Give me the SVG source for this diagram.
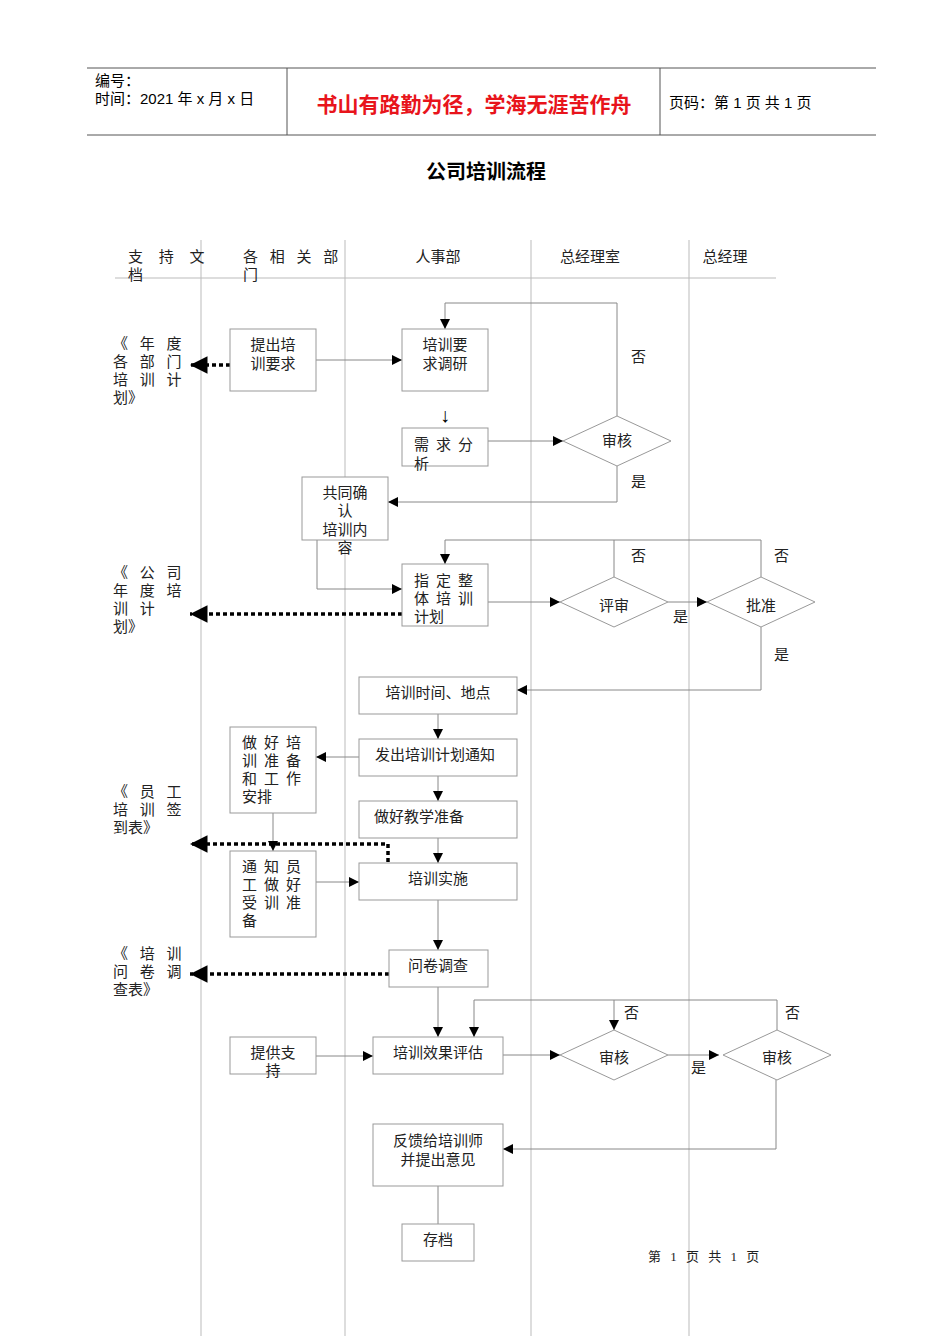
<svg xmlns="http://www.w3.org/2000/svg" width="950" height="1344" viewBox="0 0 950 1344">
<style>
text{font-family:"Liberation Serif","Noto Sans CJK SC",serif;font-size:15px;fill:#222}
.h{font-family:"Liberation Sans","Noto Sans CJK SC",sans-serif;font-size:15px;fill:#000}
.b{fill:#fff;stroke:#999;stroke-width:1}
.l{stroke:#bbb;stroke-width:1;fill:none}
.c{stroke:#888;stroke-width:1;fill:none}
.d{stroke:#000;stroke-width:3.5;stroke-dasharray:4 3;fill:none}
.m{text-anchor:middle}
</style>
<defs>
<marker id="a" viewBox="0 0 10 10" refX="10" refY="5" markerWidth="10" markerHeight="10" markerUnits="userSpaceOnUse" orient="auto"><path d="M0,0 L10,5 L0,10 z" fill="#000"/></marker>
<marker id="a2" viewBox="0 0 10 10" refX="10" refY="5" markerWidth="5" markerHeight="5" orient="auto"><path d="M0,0 L10,5 L0,10 z" fill="#000"/></marker>
</defs>
<g id="header">
<line x1="87" y1="68" x2="876" y2="68" stroke="#555"/>
<line x1="87" y1="135" x2="876" y2="135" stroke="#555"/>
<line x1="287" y1="68" x2="287" y2="135" stroke="#555"/>
<line x1="660" y1="68" x2="660" y2="135" stroke="#555"/>
<text class="h" x="95" y="86">编号：</text>
<text class="h" x="95" y="104">时间：2021 年 x 月 x 日</text>
<text class="h" x="474" y="112" text-anchor="middle" style="font-size:21px;font-weight:bold;fill:#e8141b">书山有路勤为径，学海无涯苦作舟</text>
<text class="h" x="669" y="108">页码：第 1 页  共 1 页</text>
<text x="486" y="179" text-anchor="middle" style="font-size:20px;font-weight:bold;fill:#000;font-family:'Noto Sans CJK SC',sans-serif">公司培训流程</text>
</g>
<g id="lanes">
<line class="l" x1="201" y1="240" x2="201" y2="1336"/>
<line class="l" x1="345" y1="240" x2="345" y2="1336"/>
<line class="l" x1="531" y1="240" x2="531" y2="1336"/>
<line class="l" x1="689" y1="240" x2="689" y2="1336"/>
<line class="l" x1="115" y1="278" x2="776" y2="278"/>
<text x="128" y="262" letter-spacing="6">支 持 文</text><text x="128" y="280">档</text>
<text x="243" y="262" letter-spacing="4">各 相 关 部</text><text x="243" y="280">门</text>
<text x="438" y="262" class="m">人事部</text>
<text x="590" y="262" class="m">总经理室</text>
<text x="725" y="262" class="m">总经理</text>
</g>
<g id="docs">
<text x="113" y="349" letter-spacing="4">《 年 度</text><text x="113" y="367" letter-spacing="4">各 部 门</text><text x="113" y="385" letter-spacing="4">培 训 计</text><text x="113" y="403">划》</text>
<text x="113" y="578" letter-spacing="4">《 公 司</text><text x="113" y="596" letter-spacing="4">年 度 培</text><text x="113" y="614" letter-spacing="4">训     计</text><text x="113" y="632">划》</text>
<text x="113" y="797" letter-spacing="4">《 员 工</text><text x="113" y="815" letter-spacing="4">培 训 签</text><text x="113" y="833">到表》</text>
<text x="113" y="959" letter-spacing="4">《 培 训</text><text x="113" y="977" letter-spacing="4">问 卷 调</text><text x="113" y="995">查表》</text>
</g>
<g id="connectors">
<path class="c" d="M316,360 H402" marker-end="url(#a)"/>
<path class="c" d="M617,416 V303 H445 V329" marker-end="url(#a)"/>
<text x="445" y="422" class="m" style="font-size:20px;fill:#000">↓</text>
<path class="c" d="M488,441 H563" marker-end="url(#a)"/>
<path class="c" d="M617,466 V502 H388" marker-end="url(#a)"/>
<path class="c" d="M317,540 V589 H402" marker-end="url(#a)"/>
<path class="d" d="M230,365 H190" marker-end="url(#a2)"/>
<path class="d" d="M402,614 H190" marker-end="url(#a2)"/>
<path class="c" d="M488,602 H560" marker-end="url(#a)"/>
<path class="c" d="M668,602 H707" marker-end="url(#a)"/>
<path class="c" d="M614,577 V540 M761,577 V540 H445 V564" marker-end="url(#a)"/>
<path class="c" d="M761,627 V690 H517" marker-end="url(#a)"/>
<path class="c" d="M438,714 V739" marker-end="url(#a)"/>
<path class="c" d="M438,776 V801" marker-end="url(#a)"/>
<path class="c" d="M438,838 V863" marker-end="url(#a)"/>
<path class="c" d="M359,757 H316" marker-end="url(#a)"/>
<path class="c" d="M273,813 V851" marker-end="url(#a)"/>
<path class="d" d="M388,862 V844 H190" marker-end="url(#a2)"/>
<path class="c" d="M316,882 H359" marker-end="url(#a)"/>
<path class="c" d="M438,900 V950" marker-end="url(#a)"/>
<path class="d" d="M389,974 H190" marker-end="url(#a2)"/>
<path class="c" d="M438,987 V1037" marker-end="url(#a)"/>
<path class="c" d="M316,1056 H373" marker-end="url(#a)"/>
<path class="c" d="M503,1055 H560" marker-end="url(#a)"/>
<path class="c" d="M668,1055 H719" marker-end="url(#a)"/>
<path class="c" d="M777,1030 V1000 H474 V1037" marker-end="url(#a)"/>
<path class="c" d="M614,1000 V1030" marker-end="url(#a)"/>
<path class="c" d="M776,1080 V1149 H503" marker-end="url(#a)"/>
<path class="c" d="M438,1186 V1224"/>
<text x="631" y="362">否</text><text x="631" y="487">是</text>
<text x="631" y="561">否</text><text x="774" y="561">否</text>
<text x="673" y="622">是</text><text x="774" y="660">是</text>
<text x="624" y="1018">否</text><text x="785" y="1018">否</text>
<text x="691" y="1073">是</text>
</g>
<g id="n1"><rect class="b" x="230" y="329" width="86" height="62"/><text x="273" y="350" class="m">提出培</text><text x="273" y="369" class="m">训要求</text></g>
<g id="n2"><rect class="b" x="402" y="329" width="86" height="62"/><text x="445" y="350" class="m">培训要</text><text x="445" y="369" class="m">求调研</text></g>
<g id="n3"><rect class="b" x="402" y="428" width="86" height="38"/><text x="414" y="450" letter-spacing="7">需求分</text><text x="414" y="469">析</text></g>
<g id="d1"><polygon class="b" points="563,441 617,416 671,441 617,466"/><text x="617" y="446" class="m">审核</text></g>
<g id="n4"><rect class="b" x="302" y="477" width="86" height="63"/><text x="345" y="498" class="m">共同确</text><text x="345" y="516" class="m">认</text><text x="345" y="535" class="m">培训内</text><text x="345" y="553" class="m">容</text></g>
<g id="n5"><rect class="b" x="402" y="564" width="86" height="62"/><text x="414" y="586" letter-spacing="7">指定整</text><text x="414" y="604" letter-spacing="7">体培训</text><text x="414" y="622">计划</text></g>
<g id="d2"><polygon class="b" points="560,602 614,577 668,602 614,627"/><text x="614" y="611" class="m">评审</text></g>
<g id="d3"><polygon class="b" points="707,602 761,577 815,602 761,627"/><text x="761" y="611" class="m">批准</text></g>
<g id="n6"><rect class="b" x="359" y="677" width="158" height="37"/><text x="438" y="698" class="m">培训时间、地点</text></g>
<g id="n7"><rect class="b" x="359" y="739" width="158" height="37"/><text x="435" y="760" class="m">发出培训计划通知</text></g>
<g id="n8"><rect class="b" x="359" y="801" width="158" height="37"/><text x="419" y="822" class="m">做好教学准备</text></g>
<g id="n9"><rect class="b" x="230" y="727" width="86" height="86"/><text x="242" y="748" letter-spacing="7">做好培</text><text x="242" y="766" letter-spacing="7">训准备</text><text x="242" y="784" letter-spacing="7">和工作</text><text x="242" y="802">安排</text></g>
<g id="n10"><rect class="b" x="230" y="851" width="86" height="86"/><text x="242" y="872" letter-spacing="7">通知员</text><text x="242" y="890" letter-spacing="7">工做好</text><text x="242" y="908" letter-spacing="7">受训准</text><text x="242" y="926">备</text></g>
<g id="n11"><rect class="b" x="359" y="863" width="158" height="37"/><text x="438" y="884" class="m">培训实施</text></g>
<g id="n12"><rect class="b" x="389" y="950" width="99" height="37"/><text x="438" y="971" class="m">问卷调查</text></g>
<g id="n13"><rect class="b" x="230" y="1037" width="86" height="37"/><text x="273" y="1058" class="m">提供支</text><text x="273" y="1076" class="m">持</text></g>
<g id="n14"><rect class="b" x="373" y="1037" width="130" height="37"/><text x="438" y="1058" class="m">培训效果评估</text></g>
<g id="d4"><polygon class="b" points="560,1055 614,1030 668,1055 614,1080"/><text x="614" y="1063" class="m">审核</text></g>
<g id="d5"><polygon class="b" points="723,1055 777,1030 831,1055 777,1080"/><text x="777" y="1063" class="m">审核</text></g>
<g id="n15"><rect class="b" x="373" y="1124" width="130" height="62"/><text x="438" y="1146" class="m">反馈给培训师</text><text x="438" y="1165" class="m">并提出意见</text></g>
<g id="n16"><rect class="b" x="402" y="1224" width="72" height="37"/><text x="438" y="1245" class="m">存档</text></g>
<text x="648" y="1261" style="font-size:13px" letter-spacing="3">第 1 页 共 1 页</text>
</svg>
